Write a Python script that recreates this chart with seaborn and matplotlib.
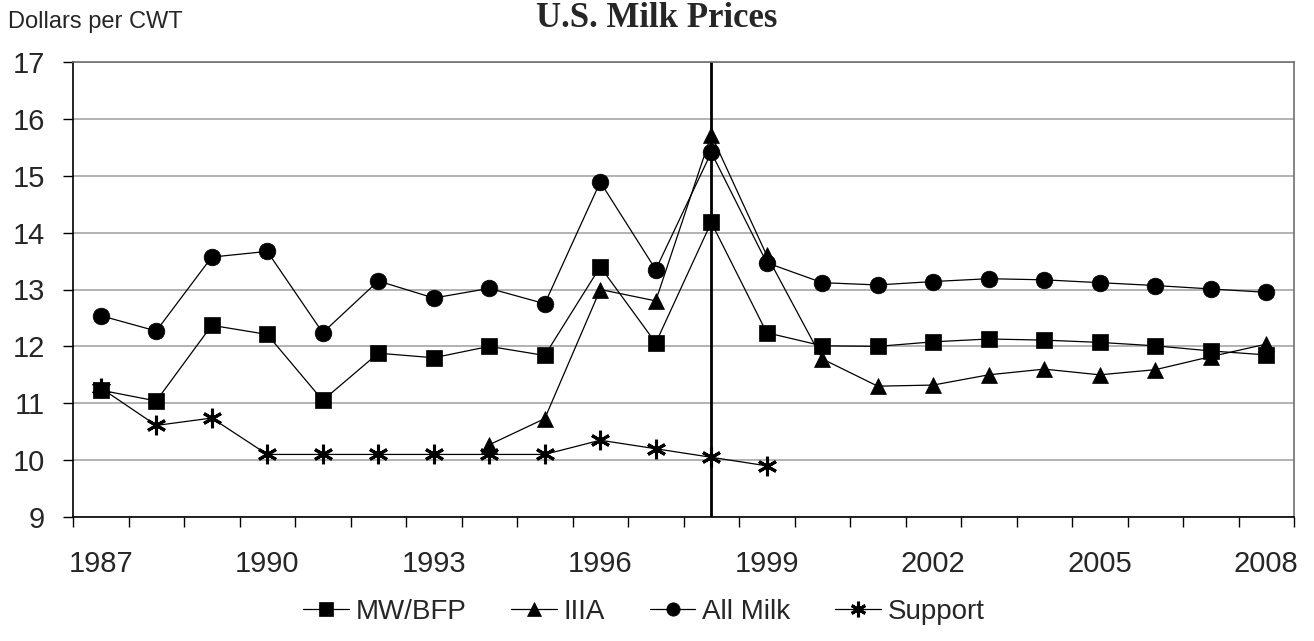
import numpy as np
import pandas as pd
import seaborn as sns
import matplotlib
matplotlib.use("Agg")
import matplotlib.pyplot as plt
from matplotlib.ticker import FixedLocator

# data

years = list(range(1987, 2009))

mw_bfp = [11.23, 11.04, 12.37, 12.21, 11.05, 11.88, 11.80, 12.00, 11.84, 13.40, 12.06,
          14.18, 12.24, 12.01, 12.00, 12.08, 12.13, 12.11, 12.07, 12.01, 11.92, 11.85]

iiia = [np.nan] * 7 + [10.27, 10.73, 13.00, 12.80, 15.72, 13.60, 11.78, 11.30, 11.32,
                       11.50, 11.60, 11.50, 11.59, 11.82, 12.04]

all_milk = [12.54, 12.27, 13.57, 13.67, 12.24, 13.15, 12.85, 13.02, 12.75, 14.89, 13.35,
            15.41, 13.47, 13.12, 13.08, 13.14, 13.19, 13.17, 13.12, 13.07, 13.01, 12.95]

support = [11.27, 10.61, 10.74, 10.10, 10.10, 10.10, 10.10, 10.10, 10.10, 10.35, 10.20,
           10.05, 9.90] + [np.nan] * 9

series_names = ["MW/BFP", "IIIA", "All Milk", "Support"]
tick_years = [1987, 1990, 1993, 1996, 1999, 2002, 2005, 2008]
marker_year = 1998

# long table, one row per point
pos = np.arange(len(years))
df = pd.DataFrame({
    "pos": np.tile(pos, 4),
    "price": mw_bfp + iiia + all_milk + support,
    "series": np.repeat(series_names, len(years)),
})

sns.set_style("white")
plt.rcParams["font.family"] = ["Liberation Sans", "DejaVu Sans"]

fig = plt.figure(figsize=(13.14, 6.41), dpi=100)
ax = fig.add_axes([73 / 1314, 1 - 517 / 641, (1294 - 73) / 1314, (517 - 62) / 641])

markers = {"MW/BFP": "s", "IIIA": "^", "All Milk": "o", "Support": (6, 2, 0)}

for name in series_names:
    sub = df[df["series"] == name].dropna()
    star = name == "Support"
    sns.lineplot(data=sub, x="pos", y="price", ax=ax, color="black", linewidth=0.9,
                 marker=markers[name], markersize=14 if star else 12,
                 markeredgecolor="black", markerfacecolor="black",
                 markeredgewidth=2.2 if star else 0.5, label=name)

# vertical line at 1998
ax.axvline(years.index(marker_year), color="black", linewidth=2, zorder=1)

ax.set_xlim(-0.5, len(years) - 0.5)
ax.set_ylim(9, 17)
ax.set_yticks(range(9, 18))
ax.yaxis.grid(True, color="#a6a6a6", linewidth=1.2)
ax.set_axisbelow(True)

ax.set_xticks([years.index(y) for y in tick_years])
ax.set_xticklabels([str(y) for y in tick_years])
ax.xaxis.set_minor_locator(FixedLocator(np.arange(-0.5, len(years), 1.0)))
ax.tick_params(axis="x", which="major", length=0, pad=24, labelsize=21)
ax.tick_params(axis="x", which="minor", length=7, width=1, color="black", bottom=True)
ax.tick_params(axis="y", length=7, width=1, color="black", pad=13, labelsize=21, left=True)
ax.set_xlabel("")
ax.set_ylabel("")

for side in ["left", "bottom"]:
    ax.spines[side].set_color("black")
    ax.spines[side].set_linewidth(1.2)
for side in ["top", "right"]:
    ax.spines[side].set_visible(True)
    ax.spines[side].set_color("#707070")
    ax.spines[side].set_linewidth(1.2)

ax.get_legend().remove()
handles, labels = ax.get_legend_handles_labels()
fig.legend(handles, labels, loc="center", bbox_to_anchor=(0.49, 1 - 612 / 641), ncol=4,
           frameon=False, fontsize=20, handlelength=1.65, handletextpad=0.25,
           columnspacing=1.6, markerscale=0.8)

fig.text(0.5, 1 - 27 / 641, "U.S. Milk Prices", ha="center", va="baseline",
         fontsize=25, fontweight="bold", family=["Liberation Serif", "DejaVu Serif"])
fig.text(8 / 1314, 1 - 28 / 641, "Dollars per CWT", ha="left", va="baseline", fontsize=17)

fig.savefig("out.png", dpi=100, facecolor="white")
